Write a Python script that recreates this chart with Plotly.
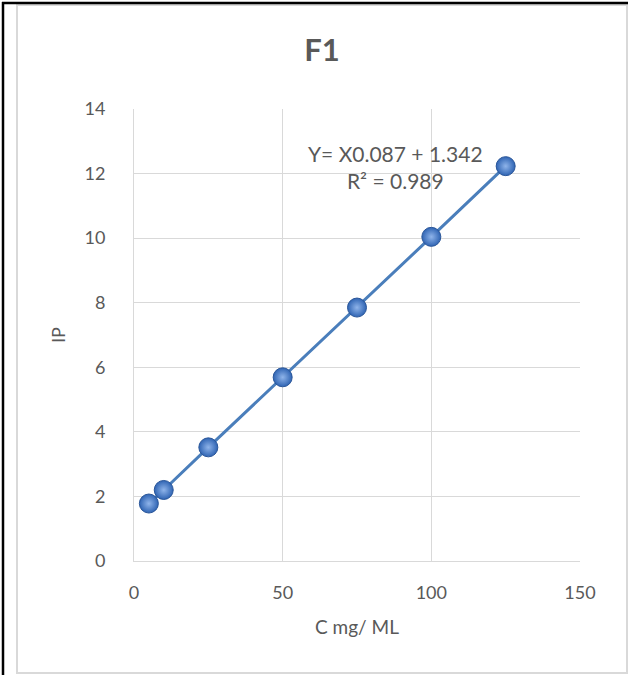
import plotly.graph_objects as go

conc = [5, 10, 25, 50, 75, 100, 125]
ip = [1.78, 2.2, 3.52, 5.69, 7.85, 10.04, 12.23]
x_ticks = [0, 50, 100, 150]
y_ticks = [0, 2, 4, 6, 8, 10, 12, 14]
title_text = "F1"
eq_text = "Y= X0.087 + 1.342<br>R² = 0.989"
x_title = "C mg/ ML"
y_title = "IP"

W, H = 636, 675
L, R, T, B = 134, 580, 109, 561

def px(xp):
    return (xp - L) / (R - L)

def py(yp):
    return (B - yp) / (B - T)

FONT = "Lato, 'Open Sans', sans-serif"
GRAY = "#595959"

fig = go.Figure()
fig.add_trace(go.Scatter(
    x=conc, y=ip, mode="lines+markers",
    line=dict(color="#4a7ebb", width=3),
    marker=dict(size=19, color="#2f64b3",
                gradient=dict(type="radial", color="#8fb4ea"),
                line=dict(color="#2a5699", width=1)),
    showlegend=False, hoverinfo="x+y",
))

fig.update_layout(
    width=W, height=H,
    margin=dict(l=L, r=W - R, t=T, b=H - B),
    paper_bgcolor="white", plot_bgcolor="white",
    font=dict(family=FONT, color=GRAY, size=16),
    title=dict(text="<b>" + title_text + "</b>", x=(322) / W, xanchor="center",
               y=1 - 50 / H, yanchor="middle",
               font=dict(size=31, color=GRAY, family=FONT)),
    xaxis=dict(range=[0, 150], tickvals=x_ticks, showgrid=True, gridcolor="#d9d9d9",
               gridwidth=1, zeroline=False, showline=True, linecolor="#d9d9d9", linewidth=1,
               ticks="", ticklabelstandoff=15, tickfont=dict(size=18, color=GRAY),
               title=dict(text=x_title, font=dict(size=19, color=GRAY), standoff=19)),
    yaxis=dict(range=[0, 14], tickvals=y_ticks, showgrid=True, gridcolor="#d9d9d9",
               gridwidth=1, zeroline=False, showline=True, linecolor="#d9d9d9", linewidth=1,
               ticks="", ticklabelstandoff=24, tickfont=dict(size=18, color=GRAY),
               title=dict(text=y_title, font=dict(size=18, color=GRAY), standoff=14)),
    annotations=[dict(text=eq_text, xref="paper", yref="paper",
                      x=px(395), y=py(167), xanchor="center", yanchor="middle",
                      showarrow=False, align="center",
                      font=dict(size=21, color=GRAY, family=FONT))],
    shapes=[
        dict(type="rect", xref="paper", yref="paper", x0=px(17), x1=px(627),
             y0=py(673), y1=py(5), line=dict(color="#d9d9d9", width=2), layer="below"),
        dict(type="line", xref="paper", yref="paper", x0=px(3), x1=px(3),
             y0=py(675), y1=py(2), line=dict(color="black", width=2.5)),
        dict(type="line", xref="paper", yref="paper", x0=px(2), x1=px(628),
             y0=py(3), y1=py(3), line=dict(color="black", width=2.5)),
    ],
)

fig.write_html("out.html")
